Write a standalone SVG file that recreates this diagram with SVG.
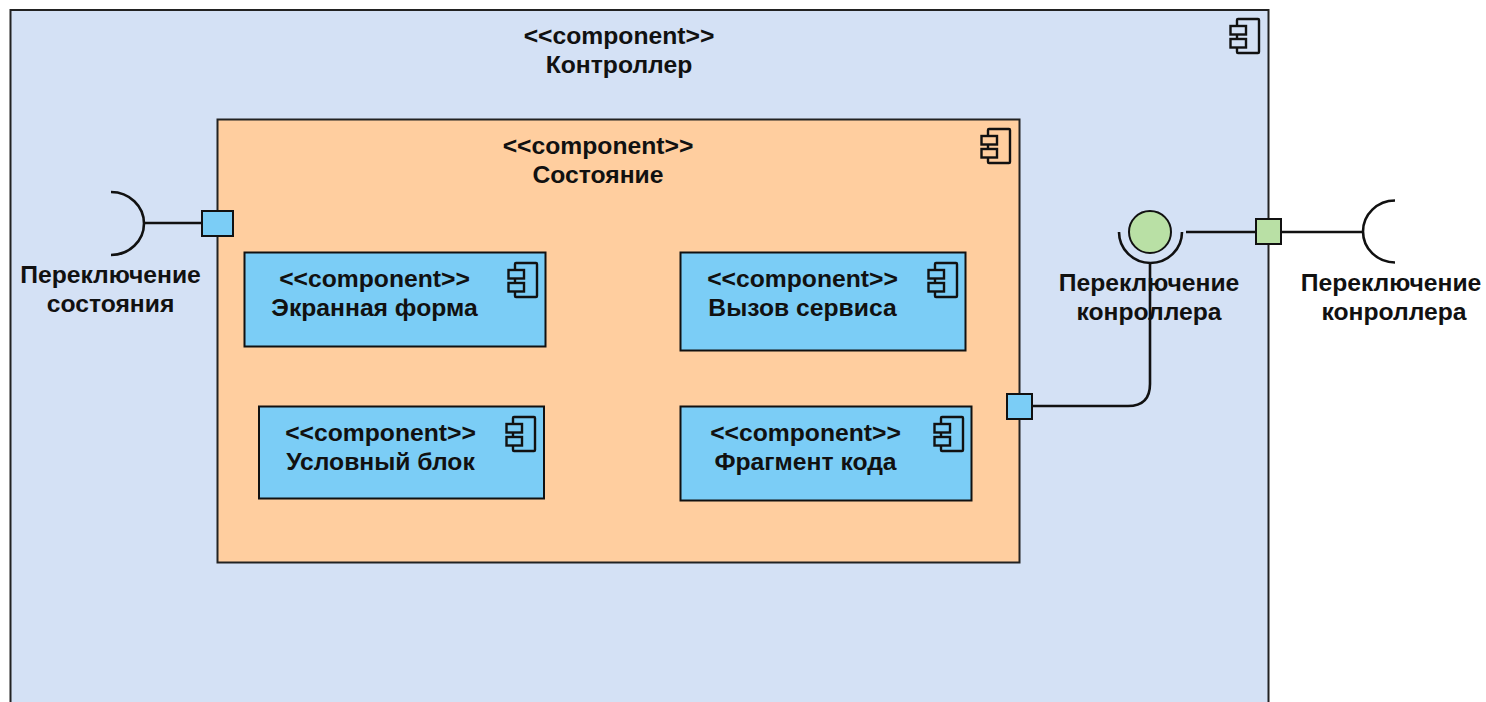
<svg xmlns="http://www.w3.org/2000/svg" xmlns:xlink="http://www.w3.org/1999/xlink" width="1486" height="702" viewBox="0 0 1486 702">
<style>
text{font-family:"Liberation Sans",Arial,sans-serif;font-weight:bold;font-size:24.700px;fill:#111;text-anchor:middle}
.b{stroke:#111;stroke-width:2;fill:#7bcdf6}
.ln{stroke:#111;stroke-width:2.600;fill:none}
.ic{stroke:#111;stroke-width:2.400}
</style>
<defs>
<g id="icon"><rect class="ic" x="7" y="0" width="22" height="34" rx="1" fill="none"/><rect class="ic" x="0.500" y="7" width="15.500" height="8.500"/><rect class="ic" x="0.500" y="20" width="15.500" height="8.500"/></g>
</defs>
<rect width="1486" height="702" fill="#fff"/>
<g id="controller"><rect x="10.500" y="10" width="1258" height="710" fill="#d4e1f5" stroke="#222" stroke-width="2"/>
<text x="619" y="44">&lt;&lt;component&gt;&gt;</text><text x="619" y="73">Контроллер</text><use xlink:href="#icon" href="#icon" x="1230" y="19" fill="#d4e1f5"/></g>
<g id="state"><rect x="217.500" y="119.500" width="802" height="443" fill="#ffce9f" stroke="#222" stroke-width="2"/>
<text x="598" y="154">&lt;&lt;component&gt;&gt;</text><text x="598" y="183">Состояние</text><use xlink:href="#icon" href="#icon" x="981" y="129" fill="#ffce9f"/></g>
<g id="screen-form"><rect class="b" x="244.500" y="252.500" width="301" height="94"/><text x="374.500" y="287">&lt;&lt;component&gt;&gt;</text><text x="374.500" y="316">Экранная форма</text><use xlink:href="#icon" href="#icon" x="508" y="263" fill="#7bcdf6"/></g>
<g id="service-call"><rect class="b" x="680.500" y="252.500" width="285" height="98"/><text x="802.500" y="287">&lt;&lt;component&gt;&gt;</text><text x="802.500" y="316">Вызов сервиса</text><use xlink:href="#icon" href="#icon" x="928" y="263" fill="#7bcdf6"/></g>
<g id="condition"><rect class="b" x="259" y="406.500" width="285" height="92"/><text x="380.500" y="441">&lt;&lt;component&gt;&gt;</text><text x="380.500" y="470">Условный блок</text><use xlink:href="#icon" href="#icon" x="506" y="417" fill="#7bcdf6"/></g>
<g id="code-fragment"><rect class="b" x="680.500" y="406.500" width="291" height="94"/><text x="805.500" y="441">&lt;&lt;component&gt;&gt;</text><text x="805.500" y="470">Фрагмент кода</text><use xlink:href="#icon" href="#icon" x="934" y="417" fill="#7bcdf6"/></g>
<g id="connectors">
<path class="ln" d="M144 223H202"/>
<path class="ln" d="M1032 406H1128Q1150 406 1150 384V263"/>
<path class="ln" d="M1186 232H1256"/>
<path class="ln" d="M1281 232H1364"/>
</g>
<g id="state-required"><path class="ln" d="M111 192A33 31.500 0 0 1 111 255"/><text x="110.500" y="283">Переключение</text><text x="110.500" y="312">состояния</text></g>
<g id="port-left"><rect class="b" x="202" y="211" width="31" height="25"/></g>
<g id="port-state"><rect class="b" x="1007" y="394" width="25" height="25"/></g>
<g id="controller-provided"><circle cx="1150" cy="232" r="21" fill="#b9e0a5" stroke="#111" stroke-width="2"/><path class="ln" d="M1119 232A31.500 31 0 0 0 1182 232"/><text x="1149" y="291">Переключение</text><text x="1149" y="320">конроллера</text></g>
<g id="port-controller"><rect x="1256" y="219" width="25" height="25" fill="#b9e0a5" stroke="#111" stroke-width="2"/></g>
<g id="controller-required"><path class="ln" d="M1395 200.500A32 31 0 0 0 1395 262.500"/><text x="1391" y="291">Переключение</text><text x="1394" y="320">конроллера</text></g>
</svg>
